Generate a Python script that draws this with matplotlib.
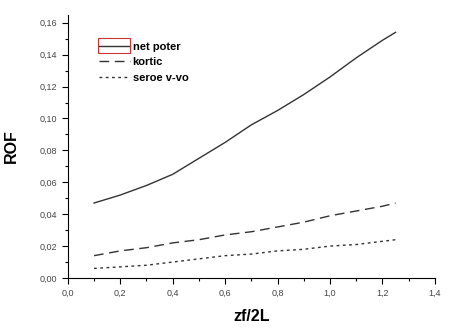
import matplotlib
matplotlib.use("Agg")
import matplotlib.pyplot as plt
from matplotlib.ticker import MultipleLocator, FuncFormatter
from matplotlib.patches import Rectangle

# ------------------------------
# data
# ------------------------------
x = [0.1, 0.2, 0.3, 0.4, 0.5, 0.6, 0.7, 0.8, 0.9, 1.0, 1.1, 1.2, 1.25]
net_poter = [0.047, 0.052, 0.058, 0.065, 0.075, 0.085, 0.096, 0.105, 0.115, 0.126, 0.138, 0.149, 0.154]
kortic = [0.014, 0.017, 0.019, 0.022, 0.024, 0.027, 0.029, 0.032, 0.035, 0.039, 0.042, 0.045, 0.047]
seroe = [0.006, 0.007, 0.008, 0.010, 0.012, 0.014, 0.015, 0.017, 0.018, 0.020, 0.021, 0.023, 0.024]
labels = ["net poter", "kortic", "seroe v-vo"]

plt.rcParams["font.family"] = ["Liberation Sans", "DejaVu Sans"]

fig = plt.figure(figsize=(4.52, 3.29), dpi=100)
ax = fig.add_axes([0.150, 0.155, 0.812, 0.800])

ax.plot(x, net_poter, color="#333333", lw=1.0, label=labels[0])
ax.plot(x, kortic, color="#333333", lw=1.0, dashes=(7, 4), label=labels[1])
ax.plot(x, seroe, color="#333333", lw=1.0, dashes=(2, 2.5), label=labels[2])

ax.set_xlim(0, 1.4)
ax.set_ylim(0, 0.165)
ax.spines["top"].set_visible(False)
ax.spines["right"].set_visible(False)
ax.xaxis.set_major_locator(MultipleLocator(0.2))
ax.xaxis.set_minor_locator(MultipleLocator(0.1))
ax.yaxis.set_major_locator(MultipleLocator(0.02))
ax.yaxis.set_minor_locator(MultipleLocator(0.01))
ax.xaxis.set_major_formatter(FuncFormatter(lambda v, p: f"{v:.1f}".replace(".", ",")))
ax.yaxis.set_major_formatter(FuncFormatter(lambda v, p: f"{v:.2f}".replace(".", ",")))
ax.tick_params(which="major", direction="out", length=4, width=0.8, labelsize=6.5, labelcolor="#444444")
ax.tick_params(which="minor", direction="out", length=2.5, width=0.8)

ax.set_xlabel("zf/2L", fontsize=11.5, fontweight="bold", labelpad=8)
ax.set_ylabel("ROF", fontsize=11.5, fontweight="bold", labelpad=15)

leg = ax.legend(loc="upper left", bbox_to_anchor=(0.063, 0.928), frameon=False,
                fontsize=8, handlelength=2.8, handletextpad=0.25, labelspacing=0.5,
                borderpad=0.2)
for t in leg.get_texts():
    t.set_fontweight("bold")

# red box around the first legend sample, like the original
fig.patches.append(Rectangle((98 / 452, 1 - 53 / 329), 32 / 452, 15 / 329,
                             transform=fig.transFigure, fill=False,
                             edgecolor="#cc3333", lw=0.8))

fig.savefig("out.png", dpi=100)
